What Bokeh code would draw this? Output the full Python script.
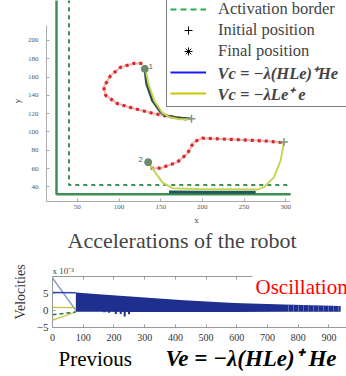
from bokeh.plotting import figure
from bokeh.models import (Legend, LegendItem, Label, LinearAxis, SingleIntervalTicker,
                          FixedTicker, Range1d, CustomJSTickFormatter)
from bokeh.layouts import column
from bokeh.embed import file_html
from bokeh.resources import INLINE

SERIF = "Liberation Serif"
NAN = float("nan")

# ---------------- top chart data (robot positions) ----------------
border_x = [25, 25, 306]
border_y = [245, 32, 32]
act_x = [40, 40, 306]
act_y = [245, 42, 42]

red1_x = [128, 117.6, 102, 90, 81.6, 84, 98, 117.6, 141.6, 160, 177.6, 186]
red1_y = [175, 174.9, 170.8, 161.7, 149, 140, 131, 125.7, 120.2, 117, 114.4, 114.5]
blue1_x = [131, 133, 140, 150, 156, 170, 186]
blue1_y = [168, 152.7, 134.4, 121.6, 118, 115.5, 114.5]
yel1_x = [132, 135.5, 142.5, 152, 160, 172, 186]
yel1_y = [168, 152, 134, 121, 116.5, 114, 114]

red2_x = [138, 150, 170, 182, 189.6, 200, 237.6, 278, 298]
red2_y = [60.4, 60.4, 67, 76.2, 88.9, 93.2, 91.8, 90, 88.2]
blue2_x = [160, 200, 264]
blue2_y = [34.5, 34, 34]
yel2_x = [135, 146, 152, 164, 200, 240, 266, 274, 286, 294, 298]
yel2_y = [67, 52.5, 45, 38.6, 37.5, 37.5, 37, 39.7, 50.6, 69, 89]

init_x = [187, 298]
init_y = [114.5, 89]
final_x = [131, 135]
final_y = [169, 67]
tag_x = [138, 126]
tag_y = [171.6, 70]
tag_text = ["1", "2"]
x_ticks_top = [50, 100, 150, 200, 250, 300]
y_ticks_top = [40, 60, 80, 100, 120, 140, 160, 180, 200]

# ---------------- bottom chart data (velocities, x 10^-3) ----------------
t_start = [0, 76]
v_lin1 = [9.7, 0.1]
v_lin2 = [5.4, 5.3]
v_yel1 = [1.0, 0.9]
v_yel2 = [-2.8, -0.4]
v_grn = [-1.2, -0.4]
osc_t = [76, 150, 265, 428, 591, 754, 938]
osc_top = [5.4, 4.9, 4.1, 3.1, 2.3, 1.8, 1.4]
osc_low = [-0.3, -0.3, -0.4, -0.4, -0.4, -0.3, -0.3]
spike_t = [168, 184, 206, 222, 235, 249]
spike_low = [-0.5, -0.6, -1.0, -1.0, -1.7, -1.1]
vel_yticks = [-5, 0, 5]


def no_frame_align(f):
    try:
        f.frame_align = False
    except Exception:
        pass


# ================= top figure =================
p1 = figure(width=346, height=228, output_backend="svg", toolbar_location=None,
            x_range=Range1d(13, 373), y_range=Range1d(24, 243.7),
            min_border_left=46, min_border_right=0, min_border_top=0, min_border_bottom=27)
no_frame_align(p1)
p1.outline_line_color = None
p1.grid.visible = False
xa1 = p1.below[0]
ya1 = p1.left[0]
xa1.ticker = FixedTicker(ticks=x_ticks_top)
ya1.ticker = FixedTicker(ticks=y_ticks_top)
xa1.bounds = (13, 306)
ya1.bounds = (24, 216.4)
for ax in (xa1, ya1):
    ax.axis_line_color = "#aaaaaa"
    ax.major_tick_line_color = "#aaaaaa"
    ax.major_tick_in = 3
    ax.major_tick_out = 0
    ax.minor_tick_line_color = None
    ax.major_label_text_font = SERIF
    ax.major_label_text_font_size = "7px"
    ax.major_label_text_color = "#555555"
    ax.axis_label_text_font = SERIF
    ax.axis_label_text_font_size = "9px"
    ax.axis_label_text_font_style = "normal"
    ax.axis_label_text_color = "#444444"
xa1.axis_label = "x"
ya1.axis_label = "y"
xa1.major_label_standoff = 3
xa1.axis_label_standoff = 3
ya1.major_label_standoff = 8
ya1.axis_label_standoff = 3

p1.line(border_x, border_y, line_color="#3f8f52", line_width=2.5)
p1.line(act_x, act_y, line_color="#3f8f52", line_width=2, line_dash="4 4")

for rx, ry in ((red1_x, red1_y), (red2_x, red2_y)):
    p1.line(rx, ry, line_color="#f2b3b3", line_width=2)
    p1.line(rx, ry, line_color="#d42a2a", line_width=3.2, line_dash="3 4")

p1.line(blue1_x, blue1_y, line_color="#2f4f45", line_width=2.5)
p1.line(blue2_x, blue2_y, line_color="#1f5a58", line_width=3)
p1.line(yel1_x, yel1_y, line_color="#c6d45a", line_width=2)
p1.line(yel2_x, yel2_y, line_color="#c6d45a", line_width=2)

p1.scatter(final_x, final_y, marker="circle", size=7, color="#6b8a6b")
p1.scatter(init_x, init_y, marker="cross", size=8, line_color="#7a9a7a", line_width=1.5)
p1.text(tag_x, tag_y, text=tag_text, text_font_size="8px", text_color="#555555",
        text_baseline="middle", text_align="center")

# placeholder renderers (one NaN point, nothing drawn) that give the legend its glyphs
lg_act = p1.line([NAN], [NAN], line_color="#22b04a", line_width=2, line_dash="6 4")
lg_init = p1.scatter([NAN], [NAN], marker="cross", size=11, line_color="black", line_width=1)
lg_fin = p1.scatter([NAN], [NAN], marker="asterisk", size=9, line_color="black", line_width=1)
lg_blue = p1.line([NAN], [NAN], line_color="#1a1aff", line_width=2)
lg_yel = p1.line([NAN], [NAN], line_color="#c8c800", line_width=2)

# formula texts of the last two legend rows (legend background is transparent)
p1.add_layout(Label(x=171, y=128.5, x_units="screen", y_units="screen",
                    text="Vc = −λ(HLe)⁺He", text_font=SERIF, text_font_size="16.5px",
                    text_font_style="bold italic", text_baseline="middle"))
p1.add_layout(Label(x=171, y=107.5, x_units="screen", y_units="screen",
                    text="Vc = −λLe⁺ e", text_font=SERIF, text_font_size="16.5px",
                    text_font_style="bold italic", text_baseline="middle"))

legend = Legend(items=[
    LegendItem(label="Activation border", renderers=[lg_act]),
    LegendItem(label="Initial position", renderers=[lg_init]),
    LegendItem(label="Final position", renderers=[lg_fin]),
    LegendItem(label=" ", renderers=[lg_blue]),
    LegendItem(label=" ", renderers=[lg_yel]),
], location=(120, 94), margin=0, padding=3, spacing=1,
    glyph_width=36, glyph_height=20, label_height=20, label_width=150, label_standoff=12,
    label_text_font=SERIF, label_text_font_size="16.5px",
    border_line_color="black", border_line_width=1.2,
    background_fill_alpha=0)
p1.add_layout(legend)

# ================= caption under the top chart =================
c1 = figure(width=346, height=28, output_backend="svg", toolbar_location=None,
            x_axis_type=None, y_axis_type=None, x_range=Range1d(0, 1), y_range=Range1d(0, 1),
            min_border=0)
no_frame_align(c1)
c1.outline_line_color = None
c1.grid.visible = False
c1.add_layout(Label(x=181.6, y=16, x_units="screen", y_units="screen",
                    text="Accelerations of the robot", text_font=SERIF, text_font_size="22px",
                    text_align="center", text_baseline="middle"))

# ================= bottom figure =================
p2 = figure(width=346, height=89, output_backend="svg", toolbar_location=None,
            x_range=Range1d(0, 957), y_range=Range1d(-5, 16.07),
            min_border_left=52, min_border_right=0, min_border_top=0, min_border_bottom=18)
no_frame_align(p2)
p2.outline_line_color = None
p2.grid.visible = False
xa2 = p2.below[0]
ya2 = p2.left[0]
xa2.ticker = SingleIntervalTicker(interval=100)
ya2.ticker = FixedTicker(ticks=vel_yticks)
ya2.bounds = (-5, 10)
top_ax = LinearAxis(ticker=SingleIntervalTicker(interval=100), fixed_location=10,
                    formatter=CustomJSTickFormatter(code="return ''"),
                    major_label_text_font_size="0px", major_label_standoff=0)
p2.add_layout(top_ax, "below")
for ax in (xa2, ya2, top_ax):
    ax.axis_line_color = "#999999"
    ax.major_tick_line_color = "#999999"
    ax.minor_tick_line_color = None
    ax.major_label_text_font = SERIF
    ax.major_label_text_color = "#333333"
xa2.major_tick_in = 3
xa2.major_tick_out = 0
ya2.major_tick_in = 3
ya2.major_tick_out = 0
top_ax.major_tick_in = 0
top_ax.major_tick_out = 3
xa2.major_label_text_font_size = "10px"
ya2.major_label_text_font_size = "11px"
xa2.major_label_standoff = 2
ya2.major_label_standoff = 4
ya2.axis_label = "Velocities"
ya2.axis_label_text_font = SERIF
ya2.axis_label_text_font_size = "14px"
ya2.axis_label_text_font_style = "normal"
ya2.axis_label_text_color = "#333333"
ya2.axis_label_standoff = 6

p2.varea(x=osc_t, y1=osc_low, y2=osc_top, fill_color="#1e2f8f")
p2.varea(x=osc_t[5:], y1=osc_low[5:], y2=osc_top[5:], fill_alpha=0,
         hatch_pattern="vertical_line", hatch_color="#8c9ad6", hatch_alpha=0.55,
         hatch_scale=5, hatch_weight=1)
p2.segment(x0=spike_t, y0=[0] * len(spike_t), x1=spike_t, y1=spike_low,
           line_color="#22348f", line_width=2)
p2.line(t_start, v_lin1, line_color="#8a98c8", line_width=1.5)
p2.line(t_start, v_lin2, line_color="#2a4aa8", line_width=1.5)
p2.line(t_start, v_yel1, line_color="#c8c040", line_width=1.3)
p2.line(t_start, v_yel2, line_color="#c8c040", line_width=1.3)
p2.line(t_start, v_grn, line_color="#1a7a3a", line_width=1.5, line_dash="4 3")

p2.add_layout(Label(x=0, y=57, x_units="screen", y_units="screen", text="x 10⁻³",
                    text_font=SERIF, text_font_size="9px", text_color="#444444",
                    text_baseline="middle"))
p2.add_layout(Label(x=200, y=41, x_units="screen", y_units="screen", text="Oscillation",
                    text_font=SERIF, text_font_size="21px", text_color="#ff0000",
                    text_baseline="middle", background_fill_color="white",
                    background_fill_alpha=1, padding=3))

# ================= caption under the bottom chart =================
c2 = figure(width=346, height=31, output_backend="svg", toolbar_location=None,
            x_axis_type=None, y_axis_type=None, x_range=Range1d(0, 1), y_range=Range1d(0, 1),
            min_border=0)
no_frame_align(c2)
c2.outline_line_color = None
c2.grid.visible = False
c2.add_layout(Label(x=58, y=18, x_units="screen", y_units="screen", text="Previous",
                    text_font=SERIF, text_font_size="21px", text_color="black",
                    text_baseline="middle"))
c2.add_layout(Label(x=165, y=18, x_units="screen", y_units="screen",
                    text="Ve = −λ(HLe)⁺ He", text_font=SERIF, text_font_size="23px",
                    text_font_style="bold italic", text_color="black",
                    text_baseline="middle"))

layout = column(p1, c1, p2, c2, spacing=0)
open("out.html", "w").write(file_html(layout, INLINE))
